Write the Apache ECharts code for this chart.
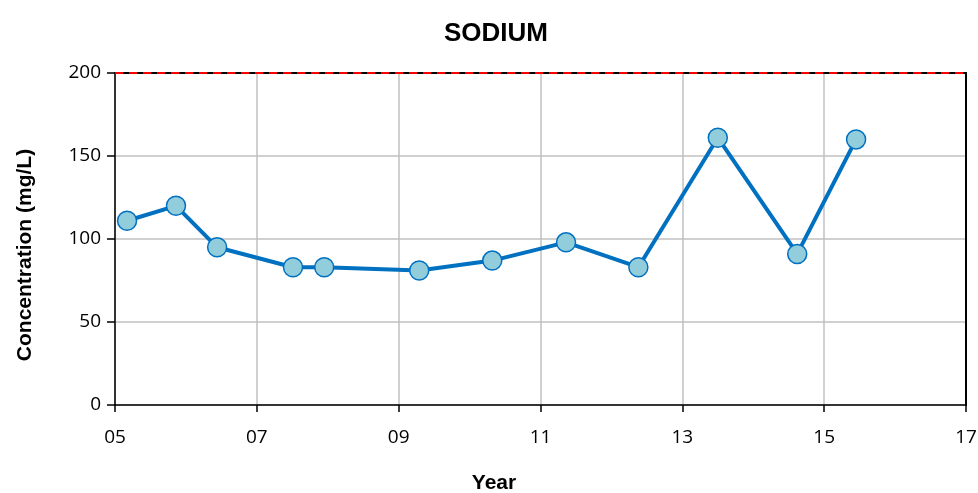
<!DOCTYPE html>
<html>
<head>
<meta charset="utf-8">
<script src="https://cdn.jsdelivr.net/npm/echarts@6/dist/echarts.min.js"></script>
<style>
  html, body { margin: 0; padding: 0; background: #fff; }
  #chart { width: 978px; height: 493px; }
</style>
</head>
<body>
<div id="chart"></div>
<script>
// Sampling dates as fractional year (two-digit, e.g. 5.17 = early 2005)
const sampleYears = [5.17, 5.86, 6.44, 7.51, 7.95, 9.29, 10.32, 11.36, 12.38, 13.50, 14.62, 15.45];
// Sodium concentration, mg/L
const sodiumValues = [111, 120, 95, 83, 83, 81, 87, 98, 83, 161, 91, 160];
// Guideline level drawn as a dashed line
const limitValue = [200];
// Axis ranges
const xRange = [5, 17, 2];
const yRange = [0, 200, 50];

const chart = echarts.init(document.getElementById('chart'));
const tickFont = { fontFamily: 'Open Sans', fontSize: 19, color: '#000' };
const nameFont = { fontFamily: 'Liberation Sans', fontWeight: 'bold', fontSize: 21, fill: '#000' };
const blackLine = { color: '#000', width: 1.5 };

// Plain frame axes closing the plot box on the top and right
const frameAxis = {
  type: 'value',
  axisLine: { show: true, onZero: false, lineStyle: { color: '#000', width: 2 } },
  axisTick: { show: false },
  axisLabel: { show: false },
  splitLine: { show: false }
};

chart.setOption({
  animation: false,
  title: {
    text: 'SODIUM',
    left: 491,
    textAlign: 'center',
    top: 16,
    textStyle: { fontFamily: 'Liberation Sans', fontWeight: 'bold', fontSize: 26, color: '#000' }
  },
  // Axis titles, centred on the page rather than the plot box
  graphic: [
    {
      type: 'text', x: 494, y: 483,
      style: Object.assign({ text: 'Year', align: 'center', verticalAlign: 'middle' }, nameFont)
    },
    {
      type: 'text', x: 25, y: 255, rotation: Math.PI / 2,
      style: Object.assign({ text: 'Concentration (mg/L)', align: 'center', verticalAlign: 'middle' }, nameFont)
    }
  ],
  grid: {
    left: 115, right: 12, top: 73, bottom: 88,
    outerBoundsMode: 'none',
    containLabel: false
  },
  xAxis: [{
    type: 'value',
    min: xRange[0], max: xRange[1], interval: xRange[2],
    axisLine: { onZero: false, lineStyle: blackLine },
    axisTick: { show: true, length: 7, lineStyle: blackLine },
    axisLabel: Object.assign({ margin: 23, formatter: v => String(v).padStart(2, '0') }, tickFont),
    splitLine: { show: true, lineStyle: { color: '#c0c0c0', width: 1.5 } }
  }, Object.assign({ position: 'top', min: xRange[0], max: xRange[1] }, frameAxis)],
  yAxis: [{
    type: 'value',
    min: yRange[0], max: yRange[1], interval: yRange[2],
    axisLine: { show: true, onZero: false, lineStyle: blackLine },
    axisTick: { show: true, length: 8, lineStyle: blackLine },
    axisLabel: Object.assign({ margin: 14 }, tickFont),
    splitLine: { show: true, lineStyle: { color: '#c0c0c0', width: 1.5 } }
  }, Object.assign({ position: 'right', min: yRange[0], max: yRange[1] }, frameAxis)],
  series: [{
    type: 'line',
    zlevel: 1,
    data: sampleYears.map((x, i) => [x, sodiumValues[i]]),
    symbol: 'circle',
    symbolSize: 19,
    lineStyle: { color: '#0070c0', width: 4 },
    itemStyle: { color: '#92cddc', borderColor: '#0070c0', borderWidth: 1.5 },
    markLine: {
      silent: true,
      symbol: 'none',
      label: { show: false },
      lineStyle: { color: '#ff0000', type: [8, 6], width: 2 },
      data: limitValue.map(v => ({ yAxis: v }))
    }
  }]
});
</script>
</body>
</html>
